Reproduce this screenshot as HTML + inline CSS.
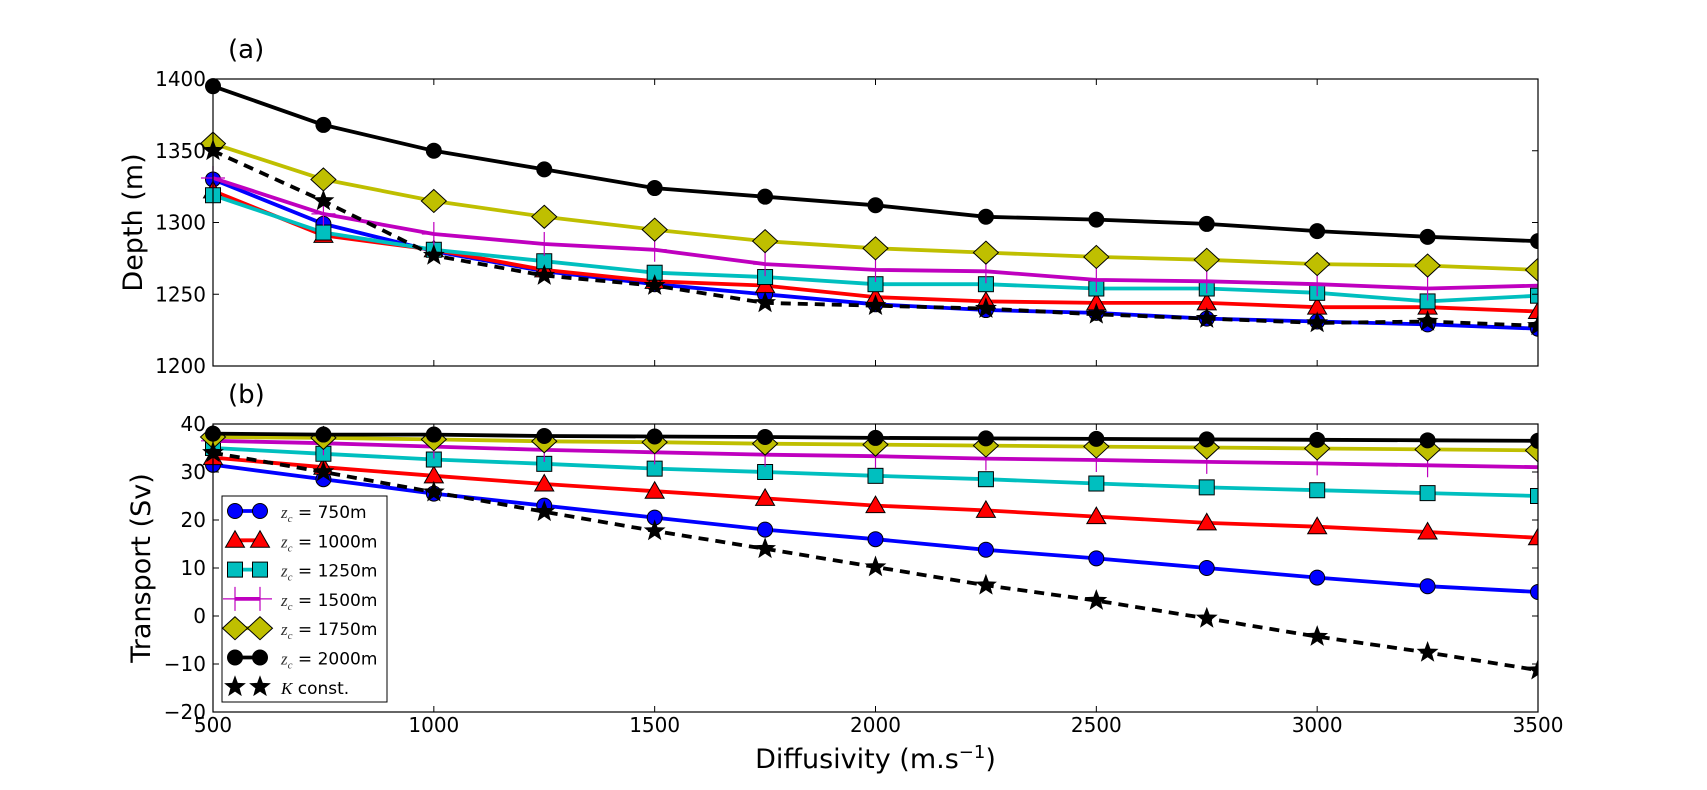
<!DOCTYPE html>
<html><head><meta charset="utf-8"><style>
html,body{margin:0;padding:0;background:#fff;}
svg{display:block;font-family:"DejaVu Sans","Liberation Sans",sans-serif;}
</style></head><body>
<svg id="chart" width="1707" height="790" xmlns="http://www.w3.org/2000/svg"></svg>
<script>
const xVals = [500,750,1000,1250,1500,1750,2000,2250,2500,2750,3000,3250,3500];
const xTicks = [500,1000,1500,2000,2500,3000,3500];
const depthTicks = [1200,1250,1300,1350,1400];
const transTicks = [-20,-10,0,10,20,30,40];
const seriesNames = ["z750","z1000","z1250","z1500","z1750","z2000","kconst"];
const legendLabels = ["750m","1000m","1250m","1500m","1750m","2000m"];
const depth750 = [1330,1299,1280,1266,1257,1250,1243,1239,1237,1233,1231,1229,1226];
const depth1000 = [1322,1291,1281,1267,1259,1256,1248,1245,1244,1244,1241,1241,1238];
const depth1250 = [1319,1293,1281,1273,1265,1262,1257,1257,1254,1254,1251,1245,1249];
const depth1500 = [1331,1306,1292,1285,1281,1271,1267,1266,1260,1259,1257,1254,1256];
const depth1750 = [1355,1330,1315,1304,1295,1287,1282,1279,1276,1274,1271,1270,1267];
const depth2000 = [1395,1368,1350,1337,1324,1318,1312,1304,1302,1299,1294,1290,1287];
const depthK = [1350,1315,1277,1263,1256,1244,1242,1240,1236,1233,1230,1231,1228];
const trans750 = [31.5,28.5,25.5,23,20.5,18,16,13.8,12,10,8,6.2,5];
const trans1000 = [33,31,29.2,27.5,26,24.5,23,22,20.7,19.4,18.6,17.5,16.3];
const trans1250 = [35,33.8,32.6,31.7,30.7,30,29.2,28.5,27.6,26.8,26.2,25.6,25];
const trans1500 = [36.5,36,35.3,34.6,34.1,33.6,33.3,32.8,32.5,32.1,31.8,31.4,31];
const trans1750 = [37.3,37.1,36.8,36.4,36.2,35.9,35.7,35.5,35.3,35.1,34.9,34.7,34.5];
const trans2000 = [38,37.8,37.8,37.5,37.4,37.3,37.1,37,36.9,36.8,36.7,36.6,36.5];
const transK = [34,30,25.8,21.7,17.7,14,10.2,6.4,3.2,-0.5,-4.3,-7.6,-11.3];

const NS="http://www.w3.org/2000/svg";
const svg=document.getElementById('chart');
function mk(tag,attrs,parent){const e=document.createElementNS(NS,tag);for(const k in attrs)e.setAttribute(k,attrs[k]);(parent||svg).appendChild(e);return e;}
const X0=213,X1=1538;
function xs(v){return X0+(v-500)/3000*(X1-X0);}
const topP={y0:79,y1:366,min:1200,max:1400,lx:132};
const botP={y0:424,y1:712,min:-20,max:40,lx:140};
function ys(p,v){return p.y1-(v-p.min)/(p.max-p.min)*(p.y1-p.y0);}
const styles=[
 {c:"#0000ff",m:"circle",dash:null},
 {c:"#ff0000",m:"tri",dash:null},
 {c:"#00bfbf",m:"square",dash:null},
 {c:"#bf00bf",m:"plus",dash:null},
 {c:"#bfbf00",m:"diamond",dash:null},
 {c:"#000000",m:"circle",dash:null},
 {c:"#000000",m:"star",dash:"10,7"}
];
function marker(g,type,cx,cy,color){
  let e;
  if(type==="circle"){e=mk('circle',{cx:cx,cy:cy,r:7.5,fill:color,stroke:"#000","stroke-width":1},g);}
  else if(type==="tri"){e=mk('polygon',{points:`${cx},${cy-9.5} ${cx+9.5},${cy+7} ${cx-9.5},${cy+7}`,fill:color,stroke:"#000","stroke-width":1},g);}
  else if(type==="square"){e=mk('rect',{x:cx-7.5,y:cy-7.5,width:15,height:15,fill:color,stroke:"#000","stroke-width":1},g);}
  else if(type==="diamond"){e=mk('polygon',{points:`${cx},${cy-11.5} ${cx+12.5},${cy} ${cx},${cy+11.5} ${cx-12.5},${cy}`,fill:color,stroke:"#000","stroke-width":1},g);}
  else if(type==="plus"){e=mk('path',{d:`M${cx-12},${cy}H${cx+12}M${cx},${cy-12}V${cy+12}`,stroke:color,"stroke-width":1.2,fill:"none"},g);}
  else {let pts=[];for(let i=0;i<10;i++){const r=i%2?4.8:11.5;const a=-Math.PI/2+i*Math.PI/5;pts.push((cx+r*Math.cos(a)).toFixed(1)+","+(cy+r*Math.sin(a)).toFixed(1));}
    e=mk('polygon',{points:pts.join(" "),fill:"#000"},g);}
  
  
  return e;
}
function panel(p,data,ticks,name,labelTxt,ylabel,showX){
  const g=mk('g',{});
  
  
  const clip=mk('clipPath',{id:name+"-clip"},g);
  mk('rect',{x:X0-15,y:p.y0-15,width:X1-X0+15,height:p.y1-p.y0+30},clip);
  const pg=mk('g',{'clip-path':`url(#${name}-clip)`},g);
  data.forEach((arr,i)=>{
    const s=styles[i];
    const pts=arr.map((v,j)=>xs(xVals[j]).toFixed(1)+","+ys(p,v).toFixed(1)).join(" ");
    const l=mk('polyline',{points:pts,fill:"none",stroke:s.c,"stroke-width":3.8,"stroke-linejoin":"round"},pg);
    if(s.dash)l.setAttribute('stroke-dasharray',s.dash);
    
    
    arr.forEach((v,j)=>marker(pg,s.m,xs(xVals[j]),ys(p,v),s.c));
  });
  const fr=mk('rect',{x:X0,y:p.y0,width:X1-X0,height:p.y1-p.y0,fill:"none",stroke:"#000","stroke-width":1.2},g);
  
  
  ticks.forEach(t=>{
    const y=ys(p,t);
    mk('path',{d:`M${X0},${y}h6M${X1},${y}h-6`,stroke:"#000","stroke-width":1},g);
    const tx=mk('text',{x:X0-7,y:y+7,"text-anchor":"end","font-size":20},g);
    tx.textContent=t<0?"\u2212"+(-t):String(t);
    
    
  });
  xTicks.forEach(t=>{
    const x=xs(t);
    mk('path',{d:`M${x},${p.y1}v-6M${x},${p.y0}v6`,stroke:"#000","stroke-width":1},g);
    if(showX){const tx=mk('text',{x:x,y:732,"text-anchor":"middle","font-size":20},g);tx.textContent=t;
      
      }
  });
  const yl=mk('text',{x:0,y:0,"text-anchor":"middle","font-size":27,transform:`translate(${p.lx+10},${(p.y0+p.y1)/2}) rotate(-90)`},g);
  yl.textContent=ylabel;
  
  
  const pl=mk('text',{x:228,y:p.y0-21,"font-size":26},g);
  pl.textContent=labelTxt;
  
  
}
panel(topP,[depth750,depth1000,depth1250,depth1500,depth1750,depth2000,depthK],depthTicks,"depth-panel","(a)","Depth (m)",false);
panel(botP,[trans750,trans1000,trans1250,trans1500,trans1750,trans2000,transK],transTicks,"transport-panel","(b)","Transport (Sv)",true);
const xl=mk('text',{x:(X0+X1)/2,y:768,"text-anchor":"middle","font-size":27});


mk('tspan',{},xl).textContent='Diffusivity (m.s';
mk('tspan',{dy:-10,"font-size":18},xl).textContent='\u22121';
mk('tspan',{dy:10},xl).textContent=')';
const lg=mk('g',{});


mk('rect',{x:222,y:496,width:165,height:206,fill:"#fff",stroke:"#000","stroke-width":1},lg);
for(let i=0;i<7;i++){
  const y=511+i*29.3;
  const s=styles[i];
  const e=mk('g',{},lg);
  
  
  if(s.m!=="star")mk('line',{x1:235,y1:y,x2:260,y2:y,stroke:s.c,"stroke-width":3.8},e);
  marker(e,s.m,235,y,s.c);marker(e,s.m,260,y,s.c);
  const t=mk('text',{x:281,y:y+7,"font-size":17},e);
  if(i<6){
    mk('tspan',{"font-family":"Liberation Serif","font-style":"italic","fill":"#333"},t).textContent='z';
    mk('tspan',{"font-family":"Liberation Serif","font-style":"italic","font-size":11,dy:4,"fill":"#333"},t).textContent='c';
    mk('tspan',{dy:-4},t).textContent=' = '+legendLabels[i];
  } else {
    mk('tspan',{"font-family":"Liberation Serif","font-style":"italic"},t).textContent='K';
    mk('tspan',{},t).textContent=' const.';
  }
}
</script>
</body></html>
